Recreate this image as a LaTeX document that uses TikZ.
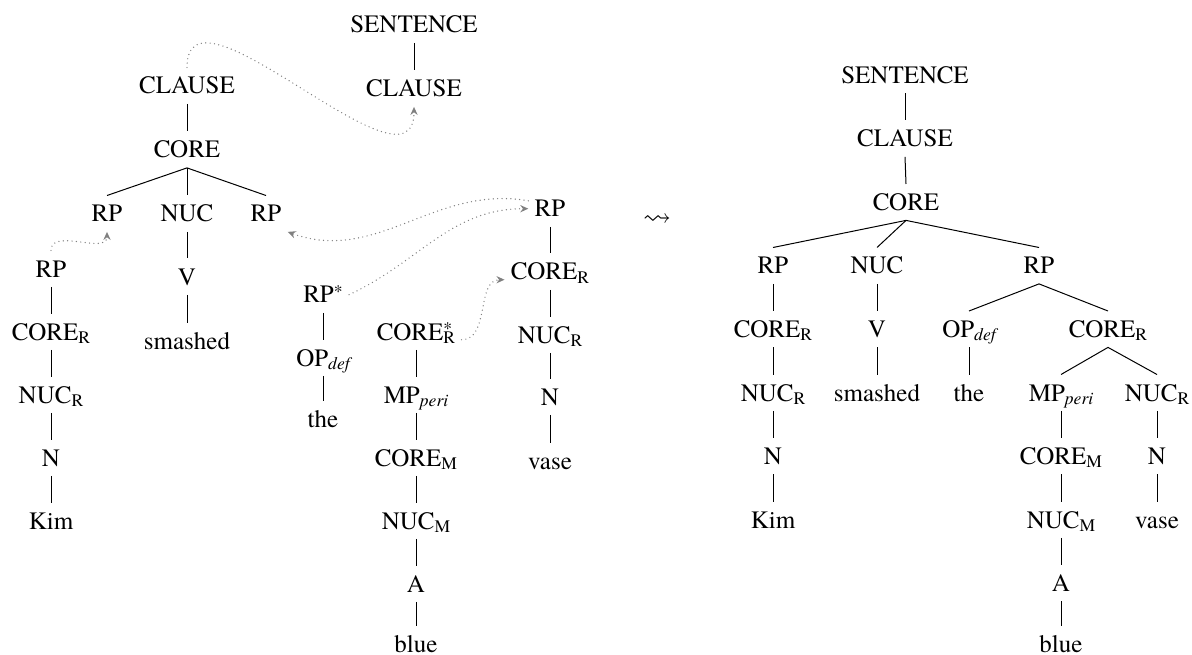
\documentclass[tikz,border=0pt]{standalone}
\usepackage{fontspec}
\setmainfont{TeX Gyre Termes}
\usepackage{amssymb}
\usetikzlibrary{arrows.meta}

% lowered subscript and raised star, in the text font
\newcommand{\lo}[1]{\raisebox{-1.6pt}{\fontsize{8.8}{9}\selectfont #1}}
\newcommand{\sub}[2]{#1\lo{#2}}
\newcommand{\isub}[2]{#1\lo{\itshape #2}}
\newcommand{\st}{\raisebox{2.6pt}{\fontsize{8.8}{9}\selectfont *}}

\begin{document}
\begin{tikzpicture}[x=0.5pt,y=0.5pt,
  lab/.style={anchor=base, inner xsep=3pt, inner ysep=4.75pt,
    text height=8.3pt, text depth=0pt, font=\fontsize{12.5}{15}\selectfont},
  br/.style={line width=0.5pt},
  mv/.style={draw=gray, line width=0.7pt, line cap=round,
    dash pattern=on 0pt off 2.2pt,
    -{Stealth[length=4pt,width=3.6pt,fill=gray]}}]
\useasboundingbox (0,0) rectangle (1192,654);

% ---------- before: separate pieces ----------
\node[lab] (s1)   at (414,621) {SENTENCE};
\node[lab] (cl1r) at (414,557) {CLAUSE};
\node[lab] (cl1)  at (187,560) {CLAUSE};
\node[lab] (co1)  at (187,496) {CORE};
\node[lab] (rpa)  at (107,432) {RP};
\node[lab] (nuca) at (187,432) {NUC};
\node[lab] (rpb)  at (266,432) {RP};
\node[lab] (va)   at (187,369) {V};
\node[lab] (sma)  at (187,305) {smashed};

\node[lab] (rpc)  at (51,377) {RP};
\node[lab] (corc) at (51,314) {\sub{CORE}{R}};
\node[lab] (nucc) at (51,251) {\sub{NUC}{R}};
\node[lab] (nc)   at (51,188) {N};
\node[lab] (kima) at (51,125) {Kim};

\node[lab] (rps)  at (323,351) {RP\st};
\node[lab] (opd)  at (323,288) {\isub{OP}{def}};
\node[lab] (thea) at (323,227) {the};

\node[lab] (cors)  at (416,314) {CORE\rlap{\st}\lo{R}};
\node[lab] (mpa)   at (416,251) {\isub{MP}{peri}};
\node[lab] (corma) at (416,188) {\sub{CORE}{M}};
\node[lab] (nucma) at (416,125) {\sub{NUC}{M}};
\node[lab] (aa)    at (416,62)  {A};
\node[lab] (bluea) at (416,2)   {blue};

\node[lab] (rpt)   at (550,437) {RP};
\node[lab] (cort)  at (550,374) {\sub{CORE}{R}};
\node[lab] (nuct)  at (550,311) {\sub{NUC}{R}};
\node[lab] (nt)    at (550,249) {N};
\node[lab] (vasea) at (550,185) {vase};

\foreach \a/\b in {s1/cl1r, cl1/co1, co1/rpa, co1/nuca, co1/rpb, nuca/va, va/sma,
  rpc/corc, corc/nucc, nucc/nc, nc/kima, rps/opd, opd/thea,
  cors/mpa, mpa/corma, corma/nucma, nucma/aa, aa/bluea,
  rpt/cort, cort/nuct, nuct/nt, nt/vasea}
  \draw[br] (\a.south) -- (\b.north);

% movement links
\draw[mv] (cl1.north) to[out=90,in=-90,looseness=1.1] (cl1r.south);
\draw[mv] (rpc.north) to[out=90,in=-90] (rpa.south);
\draw[mv] (rps.east) to[out=25,in=180] (rpt.west);
\draw[mv] (rpt.160) to[out=170,in=-20] (rpb.south east);
\draw[mv] (cors.-10) to[out=0,in=180] (cort.190);

% ---------- step ----------
\node[font=\fontsize{14}{16}\selectfont] (step) at (657,434) {$\leadsto$};

% ---------- after: combined tree ----------
\node[lab] (s2)    at (905,570.5) {SENTENCE};
\node[lab] (cl2)   at (905,507)   {CLAUSE};
\node[lab] (co2)   at (906,443.5) {CORE};
\node[lab] (rpd)   at (773,380)   {RP};
\node[lab] (nucd)  at (877,380)   {NUC};
\node[lab] (rpe)   at (1039,380)  {RP};
\node[lab] (cord)  at (773,316.5) {\sub{CORE}{R}};
\node[lab] (vd)    at (877,316.5) {V};
\node[lab] (ope)   at (969,316.5) {\isub{OP}{def}};
\node[lab] (core)  at (1108,316.5) {\sub{CORE}{R}};
\node[lab] (nucdd) at (773,253)   {\sub{NUC}{R}};
\node[lab] (smd)   at (877,253)   {smashed};
\node[lab] (thee)  at (969,253)   {the};
\node[lab] (mpe)   at (1061,253)  {\isub{MP}{peri}};
\node[lab] (nuce)  at (1157,253)  {\sub{NUC}{R}};
\node[lab] (nd)    at (773,189.5) {N};
\node[lab] (corme) at (1061,189.5) {\sub{CORE}{M}};
\node[lab] (ne)    at (1157,189.5) {N};
\node[lab] (kimd)  at (773,126)   {Kim};
\node[lab] (nucme) at (1061,126)  {\sub{NUC}{M}};
\node[lab] (vasee) at (1157,126)  {vase};
\node[lab] (ae)    at (1061,62.5) {A};
\node[lab] (bluee) at (1061,2)    {blue};

\foreach \a/\b in {s2/cl2, cl2/co2, co2/rpd, co2/nucd, co2/rpe,
  rpd/cord, cord/nucdd, nucdd/nd, nd/kimd, nucd/vd, vd/smd,
  rpe/ope, rpe/core, ope/thee, core/mpe, core/nuce,
  mpe/corme, corme/nucme, nucme/ae, ae/bluee, nuce/ne, ne/vasee}
  \draw[br] (\a.south) -- (\b.north);
\end{tikzpicture}
\end{document}
